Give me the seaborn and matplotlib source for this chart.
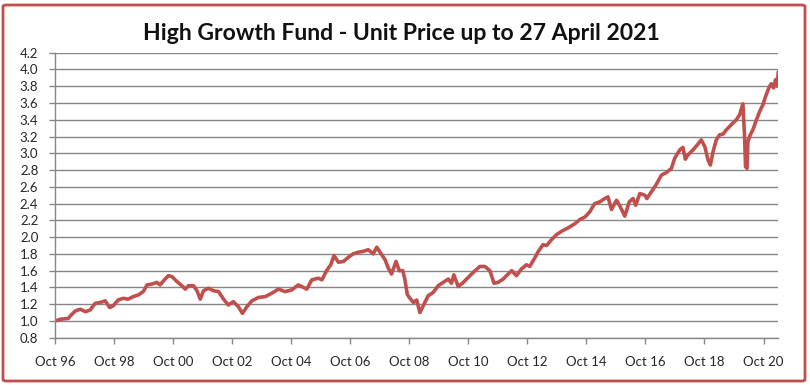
import matplotlib
matplotlib.use("Agg")
import matplotlib.pyplot as plt
from matplotlib.patches import FancyBboxPatch
import seaborn as sns
import pandas as pd

# ---- data (decimal year, unit price) ----
years = [
    1996.75, 1996.93, 1997.20, 1997.27, 1997.44, 1997.61, 1997.78, 1997.94, 1998.11, 1998.28,
    1998.45, 1998.60, 1998.72, 1998.89, 1999.06, 1999.23, 1999.40, 1999.57, 1999.74, 1999.87,
    2000.03, 2000.20, 2000.31, 2000.48, 2000.59, 2000.71, 2000.88, 2001.05, 2001.16, 2001.27,
    2001.44, 2001.56, 2001.67, 2001.78, 2001.95, 2002.12,
    2002.29, 2002.46, 2002.62, 2002.79, 2002.96, 2003.10, 2003.25, 2003.42, 2003.64, 2003.87,
    2004.09, 2004.32, 2004.54, 2004.77, 2004.99, 2005.28, 2005.45, 2005.67, 2005.79, 2005.95,
    2006.09, 2006.20, 2006.35, 2006.52, 2006.69, 2006.85, 2007.02, 2007.19, 2007.36, 2007.53,
    2007.65, 2007.76,
    2007.93, 2008.04, 2008.15, 2008.30, 2008.41, 2008.53, 2008.60, 2008.68, 2008.75, 2008.89,
    2009.00, 2009.11, 2009.25, 2009.39, 2009.56, 2009.73, 2009.90, 2010.07, 2010.18, 2010.26,
    2010.41, 2010.58, 2010.75, 2010.92, 2011.14, 2011.31, 2011.48, 2011.62, 2011.76, 2011.93,
    2012.10, 2012.22, 2012.38, 2012.55, 2012.72, 2012.83, 2013.00,
    2013.12, 2013.28, 2013.40, 2013.57, 2013.74, 2013.91, 2014.13, 2014.36, 2014.53, 2014.70,
    2014.86, 2015.03, 2015.20, 2015.37, 2015.48, 2015.60, 2015.77, 2015.90, 2016.05, 2016.20,
    2016.33, 2016.42, 2016.56, 2016.73, 2016.80, 2016.95, 2017.12, 2017.29, 2017.46, 2017.63,
    2017.74, 2017.91, 2018.02, 2018.10,
    2018.19, 2018.36, 2018.53, 2018.64, 2018.76, 2018.87, 2018.95, 2019.04, 2019.15, 2019.26,
    2019.38, 2019.49, 2019.60, 2019.71, 2019.83, 2019.94, 2020.05, 2020.11, 2020.14, 2020.19,
    2020.22, 2020.30, 2020.39, 2020.51, 2020.62, 2020.73, 2020.82, 2020.93, 2021.01, 2021.09,
    2021.16, 2021.21, 2021.25,
]
prices = [
    1.00, 1.02, 1.03, 1.06, 1.12, 1.14, 1.11, 1.13, 1.21, 1.22,
    1.24, 1.16, 1.18, 1.25, 1.27, 1.26, 1.29, 1.31, 1.35, 1.43,
    1.44, 1.46, 1.43, 1.50, 1.54, 1.53, 1.47, 1.42, 1.38, 1.42,
    1.42, 1.36, 1.26, 1.36, 1.39, 1.36,
    1.35, 1.26, 1.19, 1.23, 1.17, 1.09, 1.17, 1.24, 1.28, 1.29,
    1.33, 1.38, 1.35, 1.37, 1.43, 1.38, 1.49, 1.51, 1.49, 1.60,
    1.67, 1.78, 1.70, 1.71, 1.76, 1.80, 1.82, 1.83, 1.85, 1.80,
    1.88, 1.82,
    1.73, 1.63, 1.56, 1.71, 1.60, 1.60, 1.50, 1.32, 1.28, 1.22,
    1.25, 1.10, 1.20, 1.30, 1.34, 1.42, 1.46, 1.50, 1.45, 1.55,
    1.41, 1.46, 1.52, 1.58, 1.65, 1.65, 1.60, 1.45, 1.46, 1.50,
    1.56, 1.60, 1.54, 1.62, 1.67, 1.65, 1.75,
    1.83, 1.91, 1.90, 1.97, 2.03, 2.07, 2.11, 2.16, 2.21, 2.24,
    2.30, 2.40, 2.42, 2.46, 2.48, 2.33, 2.44, 2.36, 2.25, 2.42,
    2.46, 2.38, 2.52, 2.50, 2.46, 2.54, 2.63, 2.74, 2.77, 2.82,
    2.94, 3.04, 3.07, 2.93,
    2.98, 3.04, 3.11, 3.16, 3.08, 2.92, 2.86, 3.02, 3.16, 3.22,
    3.23, 3.28, 3.32, 3.36, 3.40, 3.46, 3.59, 3.18, 2.84, 2.82,
    3.14, 3.22, 3.28, 3.40, 3.50, 3.58, 3.68, 3.78, 3.83, 3.78,
    3.88, 3.80, 3.97,
]
tick_years = [1996.75 + 2 * i for i in range(13)]
tick_labels = ["Oct 96", "Oct 98", "Oct 00", "Oct 02", "Oct 04", "Oct 06", "Oct 08",
               "Oct 10", "Oct 12", "Oct 14", "Oct 16", "Oct 18", "Oct 20"]
y_ticks = [0.8 + 0.2 * i for i in range(18)]
title = "High Growth Fund - Unit Price up to 27 April 2021"

df = pd.DataFrame({"year": years, "price": prices})

sns.set_theme(style="white")
plt.rcParams["font.family"] = ["Lato", "DejaVu Sans"]

LINE = "#C0504D"
GRID = "#868686"
TXT = "#262626"

fig = plt.figure(figsize=(8.10, 3.85), dpi=100)
ax = fig.add_axes([55 / 810, 1 - 337.7 / 385, (778.3 - 55) / 810, (337.7 - 52.7) / 385])

sns.lineplot(data=df, x="year", y="price", ax=ax, color=LINE, linewidth=2.6,
             estimator=None, sort=False)

ax.set_xlim(years[0], years[-1])
ax.set_ylim(0.8, 4.2)
ax.set_yticks(y_ticks)
ax.set_yticklabels([f"{v:.1f}" for v in y_ticks])
ax.set_xticks(tick_years)
ax.set_xticklabels(tick_labels)
ax.set_xlabel("")
ax.set_ylabel("")

ax.yaxis.grid(True, color=GRID, linewidth=1.0)
ax.xaxis.grid(False)
ax.set_axisbelow(True)
for s in ["top", "right"]:
    ax.spines[s].set_visible(False)
for s in ["left", "bottom"]:
    ax.spines[s].set_color(GRID)
    ax.spines[s].set_linewidth(1.0)

ax.tick_params(axis="both", which="major", direction="out", length=4, width=1,
               color=GRID, labelcolor=TXT, labelsize=9.5)
ax.tick_params(axis="y", pad=8)
ax.tick_params(axis="x", pad=9)
ax.tick_params(left=True, bottom=True)

fig.text(401.5 / 810, 1 - 33 / 385, title, ha="center", va="center",
         fontsize=16.6, fontweight="bold", color="#111111")

frame = FancyBboxPatch((3 / 810, 1 - 381 / 385), (805 - 3) / 810, (381 - 5) / 385,
                       boxstyle="round,pad=0,rounding_size=0.004",
                       transform=fig.transFigure, fill=False, ec=LINE, lw=2.0)
fig.patches.append(frame)

fig.savefig("out.png", dpi=100)
